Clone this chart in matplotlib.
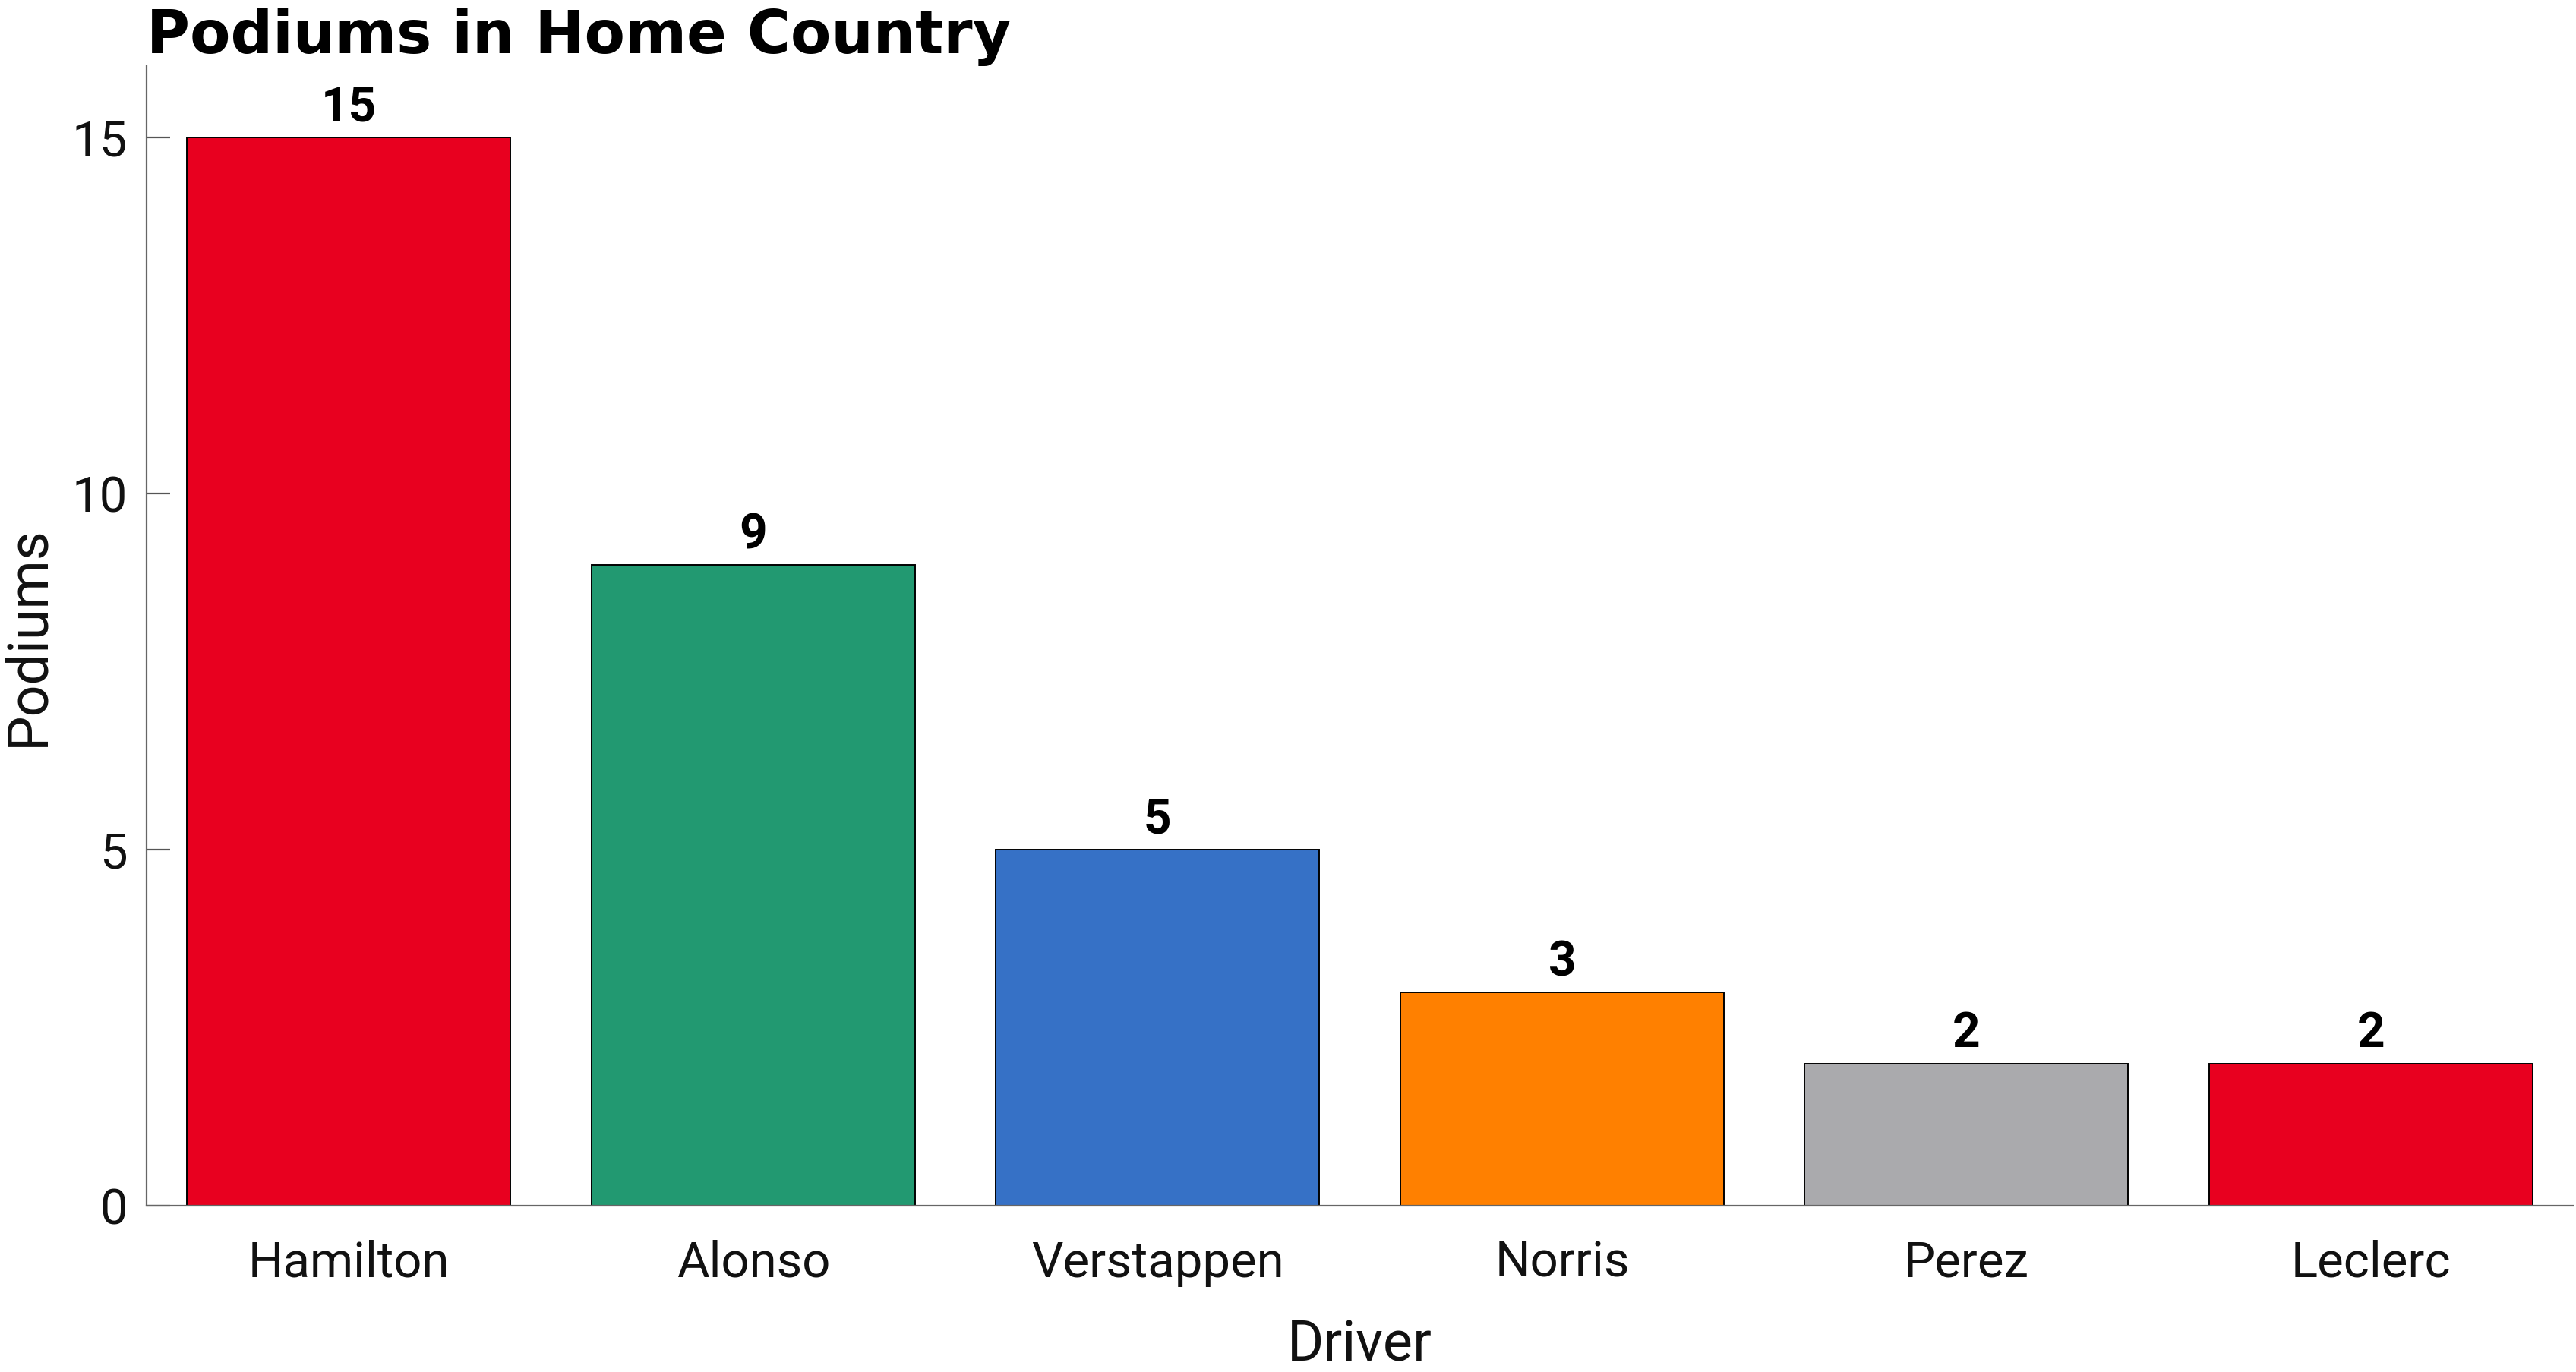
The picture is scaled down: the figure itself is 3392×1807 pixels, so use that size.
import matplotlib.pyplot as plt

drivers = ["Hamilton", "Alonso", "Verstappen", "Norris", "Perez", "Leclerc"]
podiums = [15, 9, 5, 3, 2, 2]
colors = ["#E8001F", "#229971", "#3671C6", "#FF8000", "#AAAAAD", "#E8001F"]
yticks = [0, 5, 10, 15]

plt.rcParams['font.family'] = ['Roboto', 'DejaVu Sans']

fig = plt.figure(figsize=(16.96, 9.035), dpi=200)
ax = fig.add_axes([0.0569, 0.121, 0.942, 0.831])

x = range(len(drivers))
bars = ax.bar(x, podiums, width=0.8, color=colors, edgecolor="black", linewidth=0.7)

# value labels on top of each bar
ax.bar_label(bars, labels=[str(v) for v in podiums], padding=3,
             fontsize=23, fontweight="bold", color="black")

ax.set_xlim(-0.5, 5.5)
ax.set_ylim(0, 16)
ax.set_xticks(list(x))
ax.set_xticklabels(drivers, fontsize=23.5, color="#111111")
ax.set_yticks(yticks)
ax.set_yticklabels([str(t) for t in yticks], fontsize=23.5, color="#111111")

ax.tick_params(axis="x", length=0, pad=16)
ax.tick_params(axis="y", direction="in", length=11, width=0.8, color="#555555", pad=9)

for side in ["top", "right"]:
    ax.spines[side].set_visible(False)
for side in ["left", "bottom"]:
    ax.spines[side].set_color("#666666")
    ax.spines[side].set_linewidth(0.8)

ax.set_xlabel("Driver", fontsize=26.5, color="#111111", labelpad=15)
ax.set_ylabel("Podiums", fontsize=26.5, color="#111111", labelpad=8)
ax.set_title("Podiums in Home Country", loc="left", fontsize=28,
             fontweight="heavy", family="DejaVu Sans", pad=5)

fig.savefig("out.png", dpi=200)
plt.close("all")
